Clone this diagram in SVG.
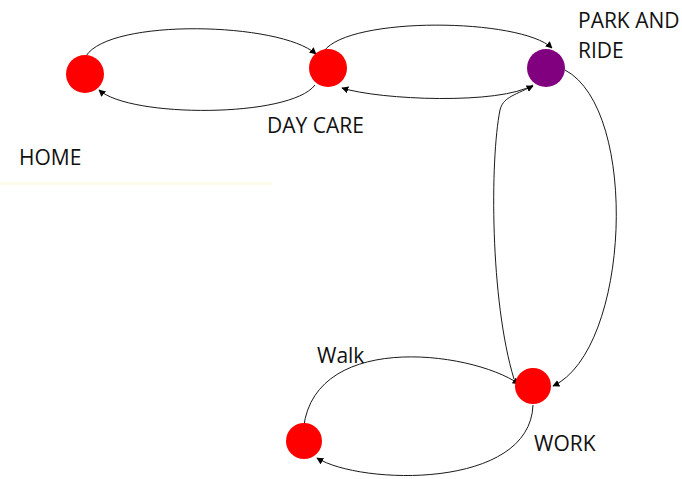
<svg xmlns="http://www.w3.org/2000/svg" width="682" height="479" viewBox="0 0 682 479">
<defs>
<marker id="ah" viewBox="0 0 10 10" refX="9" refY="5" markerWidth="7" markerHeight="7" markerUnits="userSpaceOnUse" orient="auto">
<path d="M0,0 L10,5 L0,10 z" fill="#000"/>
</marker>
<style>
.e{fill:none;stroke:#1a1a1a;stroke-width:1;marker-end:url(#ah)}
.n{stroke:none}
.t{font-family:"Open Sans","Liberation Sans",sans-serif;font-size:21px;fill:#111}
</style>
</defs>
<rect width="682" height="479" fill="#fff"/>
<rect x="0" y="182" width="272" height="3" fill="#fdfbe9"/>
<g id="edges">
<path class="e" d="M86,56 C110,18 280,22 316,54"/>
<path class="e" d="M315,85 C290,118 130,118 99,90"/>
<path class="e" d="M324,51 C350,16 520,18 552,48"/>
<path class="e" d="M533,85 C500,105 380,100 342,88"/>
<path class="e" d="M514,379 C490,300 490,160 500,110 C503,98 512,96 533,86"/>
<path class="e" d="M565,70 C640,110 630,350 553,386"/>
<path class="e" d="M303,437 C305,330 470,350 519,384"/>
<path class="e" d="M533,405 C530,490 360,485 317,458"/>
</g>
<g id="home"><circle class="n" cx="85" cy="74" r="19" fill="#ff0000"/><text class="t" x="19" y="165">HOME</text></g>
<g id="daycare"><circle class="n" cx="328" cy="68" r="19" fill="#ff0000"/><text class="t" x="267" y="133">DAY CARE</text></g>
<g id="parkride"><circle class="n" cx="546" cy="68" r="19" fill="#800080"/><text class="t" x="578" y="28">PARK AND</text><text class="t" x="578" y="58">RIDE</text></g>
<g id="work"><circle class="n" cx="533" cy="386" r="18" fill="#ff0000"/><text class="t" x="534" y="451">WORK</text></g>
<g id="walk"><circle class="n" cx="304" cy="441" r="18" fill="#ff0000"/><text class="t" x="317" y="363">Walk</text></g>
</svg>
